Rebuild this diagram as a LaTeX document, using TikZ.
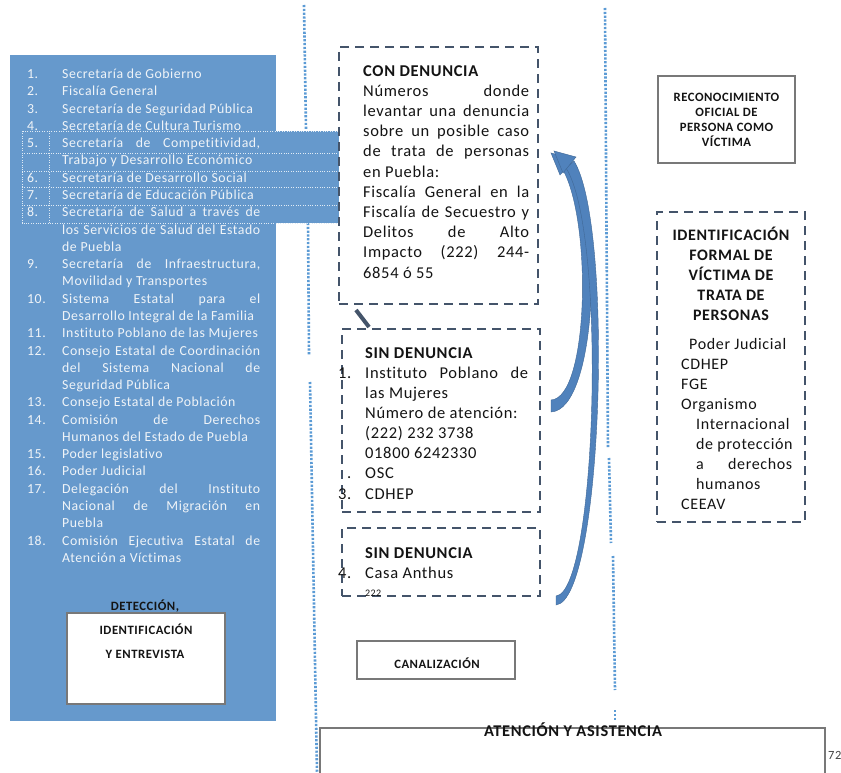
\documentclass[tikz,border=0pt]{standalone}
\usepackage{fontspec}
\setmainfont[LetterSpace=4,Ligatures=NoCommon]{Carlito}
\definecolor{panelc}{RGB}{102,153,204}
\definecolor{listtxt}{RGB}{240,244,248}
\definecolor{dashc}{RGB}{68,84,106}
\definecolor{dotc}{RGB}{91,155,213}
\definecolor{arrc}{RGB}{80,130,188}
\definecolor{gboxc}{RGB}{120,120,120}
\definecolor{ink}{RGB}{20,20,20}
\newcommand\LN[3]{\node[lst] (n#1) at (27,#2) {#3};}
\newcommand\LT[3]{\node[lst] (t#1) at (62,#2) {#3};}
\newcommand\LJ[3]{\node[lst] (t#1) at (62,#2) {\makebox[198pt][s]{#3}};}
\begin{document}
\begin{tikzpicture}[x=1pt,y=-1pt,
  lst/.style={anchor=base west,inner sep=0pt,text=listtxt,font=\fontsize{13.8}{16}\selectfont},
  cbt/.style={anchor=base west,inner sep=0pt,text=ink,font=\fontsize{16.5}{20}\selectfont},
  rbt/.style={anchor=base west,inner sep=0pt,text=ink,font=\fontsize{16}{20}\selectfont},
  ttl/.style={anchor=base,inner sep=0pt,text=ink,font=\fontsize{16}{20}\selectfont\bfseries},
  smt/.style={anchor=base,inner sep=0pt,text=ink,font=\fontsize{12.7}{15}\selectfont\bfseries},
  dbox/.style={draw=dashc,line width=2.8pt,dash pattern=on 9pt off 6pt,fill=white,inner sep=0pt,outer sep=0pt},
  gbox/.style={draw=gboxc,line width=1.4pt,fill=white,inner sep=0pt,outer sep=0pt},
  vdot/.style={draw=dotc,line width=2.6pt,dash pattern=on 2.2pt off 1.6pt},
  wdot/.style={draw=white!80!panelc,line width=0.8pt,dash pattern=on 1pt off 1.4pt},
  arrowfill/.style={fill=arrc,draw=arrc!80!black,line width=0.4pt}
]
\useasboundingbox (0,0) rectangle (841,773);
\fill[white] (0,0) rectangle (841,773);

% vertical dotted separators
\draw[vdot] (304,5) -- (306,130);
\draw[vdot] (308,223) -- (309,355);
\draw[vdot] (310,382) -- (317,773);
\draw[vdot] (605,8) -- (608,448);
\draw[vdot] (609,458) -- (611,543);
\draw[vdot] (613,556) -- (615,690);
\draw[vdot] (615,710) -- (615,720);

% blue panel
\node[fill=panelc,inner sep=0pt,minimum width=266pt,minimum height=666pt] (panel) at (143,388) {};
\node[fill=panelc,inner sep=0pt,minimum width=318pt,minimum height=92pt] (ovl) at (181,177) {};
\draw[wdot] (22,131) rectangle (340,223);
\draw[wdot] (22,153) -- (340,153);
\draw[wdot] (22,171) -- (340,171);
\draw[wdot] (22,187) -- (340,187);
\draw[wdot] (22,205) -- (340,205);
\draw[wdot] (49,131) -- (49,223);

% list
\LN{0}{78.5}{1.}\LT{0}{78.5}{Secretaría de Gobierno}
\LN{1}{95.8}{2.}\LT{1}{95.8}{Fiscalía General}
\LN{2}{113.1}{3.}\LT{2}{113.1}{Secretaría de Seguridad Pública}
\LN{3}{130.3}{4.}\LT{3}{130.3}{Secretaría de Cultura Turismo}
\LN{4}{147.6}{5.}\LJ{4}{147.6}{Secretaría de Competitividad,}
\LT{5}{164.9}{Trabajo y Desarrollo Económico}
\LN{6}{182.2}{6.}\LT{6}{182.2}{Secretaría de Desarrollo Social}
\LN{7}{199.5}{7.}\LT{7}{199.5}{Secretaría de Educación Pública}
\LN{8}{216.7}{8.}\LJ{8}{216.7}{Secretaría de Salud a través de}
\LJ{9}{234.0}{los Servicios de Salud del Estado}
\LT{10}{251.3}{de Puebla}
\LN{11}{268.6}{9.}\LJ{11}{268.6}{Secretaría de Infraestructura,}
\LT{12}{285.9}{Movilidad y Transportes}
\LN{13}{303.1}{10.}\LJ{13}{303.1}{Sistema Estatal para el}
\LT{14}{320.4}{Desarrollo Integral de la Familia}
\LN{15}{337.7}{11.}\LT{15}{337.7}{Instituto Poblano de las Mujeres}
\LN{16}{355.0}{12.}\LJ{16}{355.0}{Consejo Estatal de Coordinación}
\LJ{17}{372.3}{del Sistema Nacional de}
\LT{18}{389.5}{Seguridad Pública}
\LN{19}{406.8}{13.}\LT{19}{406.8}{Consejo Estatal de Población}
\LN{20}{424.1}{14.}\LJ{20}{424.1}{Comisión de Derechos}
\LT{21}{441.4}{Humanos del Estado de Puebla}
\LN{22}{458.7}{15.}\LT{22}{458.7}{Poder legislativo}
\LN{23}{475.9}{16.}\LT{23}{475.9}{Poder Judicial}
\LN{24}{493.2}{17.}\LJ{24}{493.2}{Delegación del Instituto}
\LJ{25}{510.5}{Nacional de Migración en}
\LT{26}{527.8}{Puebla}
\LN{27}{545.1}{18.}\LJ{27}{545.1}{Comisión Ejecutiva Estatal de}
\LT{28}{562.3}{Atención a Víctimas}

% detection box
\node[smt] (det1) at (145,610) {DETECCIÓN,};
\node[gbox,minimum width=158pt,minimum height=91pt] (detbox) at (146,658.5) {};
\node[smt] (det2) at (146,634) {IDENTIFICACIÓN};
\node[smt] (det3) at (145,658) {Y ENTREVISTA};

% CON DENUNCIA
\node[dbox,minimum width=199pt,minimum height=257pt] (con) at (438.5,175.5) {};
\node[cbt,font=\fontsize{16.5}{20}\selectfont\bfseries] (c0) at (363,76.3) {CON DENUNCIA};
\node[cbt] (c1) at (363,96.5) {\makebox[166pt][s]{Números donde}};
\node[cbt] (c2) at (363,116.6) {\makebox[166pt][s]{levantar una denuncia}};
\node[cbt] (c3) at (363,136.8) {\makebox[166pt][s]{sobre un posible caso}};
\node[cbt] (c4) at (363,157.0) {\makebox[166pt][s]{de trata de personas}};
\node[cbt] (c5) at (363,177.2) {en Puebla:};
\node[cbt] (c6) at (363,197.3) {\makebox[166pt][s]{Fiscalía General en la}};
\node[cbt] (c7) at (363,217.5) {\makebox[166pt][s]{Fiscalía de Secuestro y}};
\node[cbt] (c8) at (363,237.7) {\makebox[166pt][s]{Delitos de Alto}};
\node[cbt] (c9) at (363,257.8) {\makebox[166pt][s]{Impacto (222) 244-}};
\node[cbt] (c10) at (363,278.0) {6854 ó 55};

% SIN DENUNCIA 1
\node[dbox,minimum width=198pt,minimum height=183pt] (sin1) at (441,420.5) {};
\node[cbt,font=\fontsize{16.5}{20}\selectfont\bfseries] (s0) at (365,358.3) {SIN DENUNCIA};
\node[cbt] (s1n) at (338,378.4) {1.};
\node[cbt] (s1) at (365,378.4) {\makebox[163pt][s]{Instituto Poblano de}};
\node[cbt] (s2) at (365,398.5) {las Mujeres};
\node[cbt] (s3) at (365,418.6) {Número de atención:};
\node[cbt] (s4) at (365,438.7) {(222) 232 3738};
\node[cbt] (s5) at (365,458.8) {01800 6242330};
\node[cbt] (s6n) at (347,478.9) {.};
\node[cbt] (s6) at (365,478.9) {OSC};
\node[cbt] (s7n) at (338,499.0) {3.};
\node[cbt] (s7) at (365,499.0) {CDHEP};

% SIN DENUNCIA 2
\node[dbox,minimum width=198pt,minimum height=68pt] (sin2) at (441,562) {};
\node[cbt,font=\fontsize{16.5}{20}\selectfont\bfseries] (u0) at (365,558.3) {SIN DENUNCIA};
\node[cbt] (u1n) at (338,578.3) {4.};
\node[cbt] (u1) at (365,578.3) {Casa Anthus};
\node[cbt,font=\fontsize{10}{11}\selectfont] (u2) at (365,596) {222};

% connector between CON and SIN
\coordinate (k1) at (356,310);
\coordinate (k2) at (369,327);
\draw[dashc,line width=4pt] (k1) -- (k2);

% curved arrows (from the SIN DENUNCIA boxes up to CON DENUNCIA)
\fill[arrowfill] (551,412) .. controls (597,410) and (604,215) .. (571,163) -- (563,170) .. controls (592,222) and (589,398) .. (551,400) -- cycle;
\fill[arrowfill] (551,153) -- (574,159) -- (560,175) -- cycle;
\fill[arrowfill] (556,605) .. controls (603,600) and (614,225) .. (574,161) -- (566,168) .. controls (607,232) and (597,592) .. (556,596) -- cycle;
\fill[arrowfill] (554,151) -- (576,157) -- (563,173) -- cycle;

% CANALIZACION
\node[gbox,minimum width=158pt,minimum height=38pt] (canal) at (436,660) {};
\node[smt] (canalt) at (437,668) {CANALIZACIÓN};

% RECONOCIMIENTO
\node[gbox,minimum width=137pt,minimum height=87pt] (recon) at (726.5,119.5) {};
\node[smt] (r1) at (726.5,101.1) {RECONOCIMIENTO};
\node[smt] (r2) at (726.5,116.1) {OFICIAL DE};
\node[smt] (r3) at (726.5,131.1) {PERSONA COMO};
\node[smt] (r4) at (726.5,146.1) {VÍCTIMA};

% IDENTIFICACION FORMAL
\node[dbox,minimum width=148pt,minimum height=310pt] (ident) at (731,367) {};
\node[ttl] (i1) at (731,240.2) {IDENTIFICACIÓN};
\node[ttl] (i2) at (731,260.2) {FORMAL DE};
\node[ttl] (i3) at (731,280.2) {VÍCTIMA DE};
\node[ttl] (i4) at (731,300.2) {TRATA DE};
\node[ttl] (i5) at (731,320.2) {PERSONAS};
\node[rbt] (b1) at (689,349.2) {Poder Judicial};
\node[rbt] (b2) at (681,369.2) {CDHEP};
\node[rbt] (b3) at (681,389.2) {FGE};
\node[rbt] (b4) at (681,409.2) {Organismo};
\node[rbt] (b5) at (696,429.2) {Internacional};
\node[rbt] (b6) at (696,449.2) {de protección};
\node[rbt] (b7) at (696,469.2) {\makebox[96pt][s]{a derechos}};
\node[rbt] (b8) at (696,489.2) {humanos};
\node[rbt] (b9) at (681,509.2) {CEEAV};

% ATENCION Y ASISTENCIA
\coordinate (a1) at (320,773);
\coordinate (a2) at (320,728);
\coordinate (a3) at (825,728);
\coordinate (a4) at (825,773);
\draw[gboxc,line width=1.4pt,fill=white] (a1) -- (a2) -- (a3) -- (a4);
\node[ttl,font=\fontsize{16.4}{20}\selectfont\bfseries] (aten) at (573,736) {ATENCIÓN Y ASISTENCIA};
\node[rbt,font=\fontsize{12.5}{14}\selectfont,text=ink!80] (pg) at (828,759.5) {72};
\end{tikzpicture}
\end{document}
